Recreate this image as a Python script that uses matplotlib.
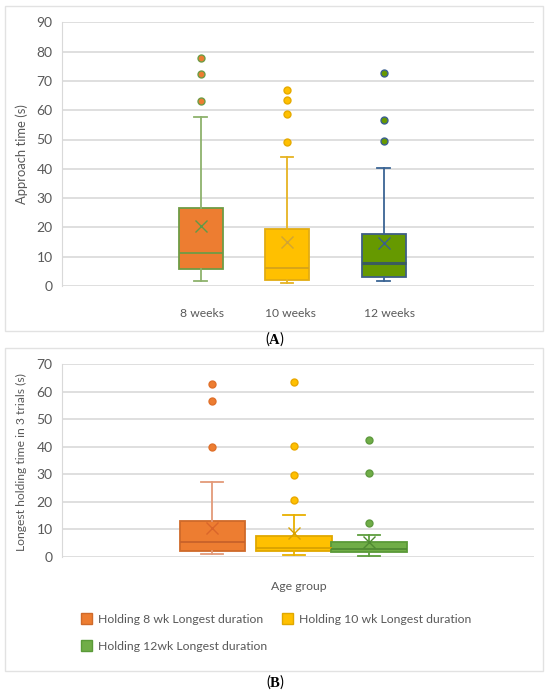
import matplotlib
matplotlib.use("Agg")
import matplotlib.pyplot as plt
from matplotlib.patches import Rectangle

plt.rcParams["font.family"] = ["Lato", "DejaVu Sans"]
plt.rcParams["mathtext.fontset"] = "custom"
plt.rcParams["mathtext.rm"] = "Liberation Serif"
plt.rcParams["mathtext.bf"] = "Liberation Serif:bold"

# ── data: panel A (approach time) ─────────────────────────────
a_groups = ["8 weeks", "10 weeks", "12 weeks"]
a_q1     = [5.8, 2.2, 3.0]
a_med    = [11.1, 6.1, 7.8]
a_q3     = [26.6, 19.6, 17.9]
a_lo     = [1.7, 1.1, 1.8]
a_hi     = [57.6, 44.0, 40.2]
a_mean   = [20.4, 14.9, 14.8]
a_fliers = [[77.9, 72.3, 63.2], [67.0, 63.4, 58.6, 49.3], [72.7, 56.6, 49.4]]

# ── data: panel B (longest holding time) ──────────────────────
b_series = ["Holding 8 wk Longest duration", "Holding 10 wk Longest duration",
            "Holding 12wk Longest duration"]
b_q1     = [2.1, 2.2, 1.7]
b_med    = [5.4, 3.3, 2.9]
b_q3     = [13.1, 7.6, 5.3]
b_lo     = [0.85, 0.5, 0.25]
b_hi     = [27.0, 15.1, 8.0]
b_mean   = [10.5, 8.5, 5.2]
b_fliers = [[62.8, 56.6, 40.0], [63.4, 40.2, 29.7, 20.7], [42.6, 30.4, 12.1]]

# styles (fill, edge, whisker, median, mean, flier edge)
A_STY = [
    ("#ED7D31", "#6E9C45", "#8DB26C", "#6E9C45", "#5E9A48", "#6E9C45"),
    ("#FFC000", "#E2AC12", "#E6B322", "#D6A31A", "#D2A532", "#E6AA00"),
    ("#669900", "#3F5E86", "#3A6494", "#3A5C5E", "#3A5F8F", "#3A5F8F"),
]
B_STY = [
    ("#ED7D31", "#CF6A2A", "#E39A78", "#C8622A", "#D9652A", "#E0702A"),
    ("#FFC000", "#E0A800", "#E8B000", "#D9A200", "#D9A200", "#EAA800"),
    ("#70AD47", "#5A9A38", "#5E9E3E", "#4F8A32", "#4F8A32", "#5E9A3E"),
]
GREY = "#595959"

W, H = 550, 695
fig = plt.figure(figsize=(W / 100, H / 100), dpi=100)
renderer = fig.canvas.get_renderer()

def fit(text, px, vertical=False):
    # scale font so the text spans about px pixels in the picture
    bb = text.get_window_extent(renderer)
    cur = bb.height if vertical else bb.width
    text.set_fontsize(text.get_fontsize() * px / cur)

# panel frames
for y0, y1 in [(6, 331), (348, 671)]:
    fig.patches.append(Rectangle((4.5 / W, 1 - y1 / H), (543 - 4.5) / W, (y1 - y0) / H,
                                 transform=fig.transFigure, fill=False,
                                 edgecolor="#E2E2E2", linewidth=1.0))

def px_ax(top, bottom):
    return fig.add_axes([62.3 / W, 1 - bottom / H, (533.5 - 62.3) / W, (bottom - top) / H])

def draw_boxes(ax, pos, widths, caps, q1, med, q3, lo, hi, mean, fliers, sty, mlw):
    for i in range(len(q1)):
        fill, edge, wc, mc, meanc, fe = sty[i]
        stats = [dict(q1=q1[i], med=med[i], q3=q3[i], whislo=lo[i], whishi=hi[i],
                      mean=mean[i], fliers=fliers[i])]
        ax.bxp(stats, positions=[pos[i]], widths=widths[i], patch_artist=True,
               showmeans=True, capwidths=caps,
               boxprops=dict(facecolor=fill, edgecolor=edge, linewidth=1.3),
               whiskerprops=dict(color=wc, linewidth=1.3),
               capprops=dict(color=wc, linewidth=1.3),
               medianprops=dict(color=mc, linewidth=mlw[i]),
               meanprops=dict(marker="x", markeredgecolor=meanc, markersize=8,
                              markeredgewidth=1.0),
               flierprops=dict(marker="o", markerfacecolor=fill, markeredgecolor=fe,
                               markersize=5, markeredgewidth=1.0),
               manage_ticks=False, zorder=3)

def style_axes(ax, ymax):
    ax.set_xlim(0, 1)
    ax.set_ylim(0, ymax)
    ax.set_yticks(range(0, ymax + 1, 10))
    ax.grid(axis="y", color="#D9D9D9", linewidth=1.2, zorder=0)
    ax.set_axisbelow(True)
    for s in ["top", "right", "bottom"]:
        ax.spines[s].set_visible(False)
    ax.spines["left"].set_color("#D9D9D9")
    ax.tick_params(axis="y", length=0, pad=7, labelsize=10, labelcolor=GREY)
    ax.tick_params(axis="x", length=0)

# ── panel A ───────────────────────────────────────────────────
axA = px_ax(22.3, 286)
style_axes(axA, 90)
draw_boxes(axA, [0.294, 0.477, 0.682], [0.093, 0.093, 0.093], 0.027,
           a_q1, a_med, a_q3, a_lo, a_hi, a_mean, a_fliers, A_STY, [1.3, 1.3, 2.2])
for xp, lab in zip([202, 290, 390], a_groups):
    t = fig.text(xp / W, 1 - 314 / H, lab, ha="center", va="center", color=GREY, fontsize=9)
    if lab == "10 weeks":
        fit(t, 51)
        cat_fs = t.get_fontsize()
for t in fig.texts:
    t.set_fontsize(cat_fs)
axA.set_xticks([])
ylA = fig.text(21.7 / W, 1 - 154 / H, "Approach time (s)", rotation=90,
               ha="center", va="center", color=GREY, fontsize=10)
fit(ylA, 100, vertical=True)
fig.text(275 / W, 1 - 339 / H, r"($\mathbf{A}$)", ha="center", va="center", fontsize=10.5)

# ── panel B ───────────────────────────────────────────────────
axB = px_ax(364.3, 556.7)
style_axes(axB, 70)
draw_boxes(axB, [0.318, 0.491, 0.650], [0.138, 0.161, 0.161], 0.047,
           b_q1, b_med, b_q3, b_lo, b_hi, b_mean, b_fliers, B_STY, [1.3, 1.3, 1.3])
axB.set_xticks([])
ylB = fig.text(21.8 / W, 1 - 462 / H, "Longest holding time in 3 trials (s)", rotation=90,
               ha="center", va="center", color=GREY, fontsize=9)
fit(ylB, 179, vertical=True)
xlB = fig.text(299 / W, 1 - 586 / H, "Age group", ha="center", va="center",
               fontsize=9, color=GREY)
fit(xlB, 56)

# legend, placed item by item (8 wk, 10 wk on first row, 12 wk below)
leg_xy = [(81, 618.5), (282, 618.5), (81, 645.5)]
leg_fs = None
for (lx, ly), lab, sty in zip(leg_xy, b_series, B_STY):
    fig.patches.append(Rectangle((lx / W, 1 - (ly + 5.5) / H), 11 / W, 11 / H,
                                 transform=fig.transFigure, facecolor=sty[0],
                                 edgecolor=sty[1], linewidth=1.0))
    t = fig.text((lx + 17) / W, 1 - ly / H, lab, ha="left", va="center_baseline",
                 color=GREY, fontsize=10)
    if leg_fs is None:
        fit(t, 165)
        leg_fs = t.get_fontsize()
    t.set_fontsize(leg_fs)
fig.text(275 / W, 1 - 682 / H, r"($\mathbf{B}$)", ha="center", va="center", fontsize=10.5)

fig.savefig("out.png", dpi=100)
